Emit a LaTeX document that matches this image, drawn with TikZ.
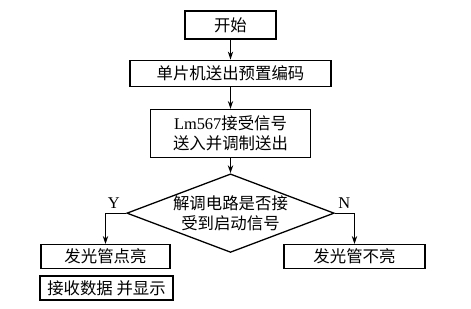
\documentclass[tikz,border=0pt]{standalone}
\usepackage{fontspec}
\setmainfont{Liberation Serif}
\newfontfamily\cjk{Noto Sans CJK SC}
\usepackage{tikz}
\usetikzlibrary{shapes.geometric, arrows.meta, positioning, calc}
\tikzset{
	stepbox/.style ={rectangle, draw=black, line width=1.1pt, minimum height=0.72cm, inner sep=1pt, text centered, align=center},
	decision/.style={diamond, aspect=2.64, draw=black, line width=1.1pt, minimum width=5.79cm, minimum height=2.19cm, inner sep=0pt, align=center},
	flowarrow/.style={-{Stealth[length=2.4mm, width=1.6mm]}, line width=1.1pt},
}
\begin{document}
\begin{tikzpicture}[every node/.style={font=\fontsize{14}{17}\selectfont}]
	\useasboundingbox (0,0) rectangle (14.13,-9.27);
	\node[stepbox, minimum width=2.73cm, minimum height=0.84cm] (start) at (6.915,-0.75) {\cjk 开始};
	\node[stepbox, below=0.6cm of start, minimum width=6.03cm, minimum height=0.78cm] (code) {\cjk 单片机送出预置编码};
	\node[stepbox, below=0.66cm of code, minimum width=4.8cm, minimum height=1.44cm] (recv) {Lm567{\cjk 接受信号}\\{\cjk 送入并调制送出}};
	\node[decision, below=0.45cm of recv] (dia) {\cjk 解调电路是否接\\\cjk 受到启动信号};
	\node[stepbox, anchor=north, minimum width=3.87cm] (on) at (3.165,-7.32) {\cjk 发光管点亮};
	\node[stepbox, below=0.18cm of on, minimum width=3.99cm, xshift=0.03cm] (show) {\cjk 接收数据 并显示};
	\node[stepbox, anchor=north, minimum width=4.23cm] (off) at (10.635,-7.32) {\cjk 发光管不亮};
	\draw[flowarrow] (start) -- (code);
	\draw[flowarrow] (code) -- (recv);
	\draw[flowarrow] (recv) -- (dia);
	\draw[flowarrow] (dia.west) -| node[above, pos=0.3] {Y} (on.north);
	\draw[flowarrow] (dia.east) -| node[above, pos=0.24] {N} (off.north);
\end{tikzpicture}
\end{document}
